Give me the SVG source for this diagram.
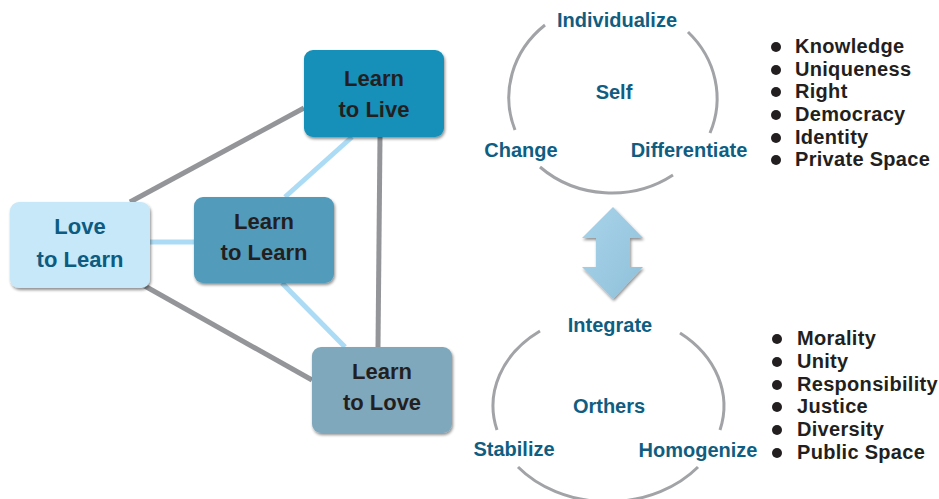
<svg xmlns="http://www.w3.org/2000/svg" width="939" height="499" viewBox="0 0 939 499">
<style>
.box text{font-family:"Liberation Sans",Arial,sans-serif;font-weight:bold;font-size:22px;text-anchor:middle;fill:#231f20}
.lbl{font-family:"Liberation Sans",Arial,sans-serif;font-weight:bold;font-size:20px;fill:#0f5e82}
.bul{font-family:"Liberation Sans",Arial,sans-serif;font-weight:bold;font-size:20px;fill:#231f20;letter-spacing:0.3px}
.gray{stroke:#949599;stroke-width:5;fill:none}
.lblue{stroke:#acdcf5;stroke-width:5;fill:none}
.arc{stroke:#a2a3a6;stroke-width:3;fill:none}
.dot{fill:#231f20}
</style>
<defs>
<filter id="sh" x="-10%" y="-10%" width="125%" height="130%">
<feGaussianBlur in="SourceAlpha" stdDeviation="1.5"/>
<feOffset dx="1" dy="2" result="o"/>
<feComponentTransfer><feFuncA type="linear" slope="0.45"/></feComponentTransfer>
<feMerge><feMergeNode/><feMergeNode in="SourceGraphic"/></feMerge>
</filter>
<linearGradient id="ag" x1="0" y1="0" x2="1" y2="1">
<stop offset="0" stop-color="#a9d4ea"/>
<stop offset="1" stop-color="#8fc0da"/>
</linearGradient>
</defs>
<g id="connectors">
<line class="gray" x1="130" y1="202" x2="304" y2="108"/>
<line class="gray" x1="143" y1="285" x2="312" y2="380"/>
<line class="gray" x1="380" y1="137" x2="378" y2="347"/>
<line class="lblue" x1="150" y1="242" x2="194" y2="242"/>
<line class="lblue" x1="352" y1="137" x2="285" y2="197"/>
<line class="lblue" x1="282" y1="283" x2="345" y2="347"/>
</g>
<g id="learn-to-live" class="box">
<rect x="304" y="50" width="140" height="87" rx="9" fill="#1390b8" filter="url(#sh)"/>
<text x="374" y="86">Learn</text>
<text x="374" y="117">to Live</text>
</g>
<g id="love-to-learn" class="box">
<rect x="10" y="202" width="140" height="86" rx="9" fill="#c6e8f8" filter="url(#sh)"/>
<text x="80" y="234" style="fill:#0d5b80">Love</text>
<text x="80" y="267" style="fill:#0d5b80">to Learn</text>
</g>
<g id="learn-to-learn" class="box">
<rect x="194" y="197" width="140" height="86" rx="9" fill="#529bbb" filter="url(#sh)"/>
<text x="264" y="229">Learn</text>
<text x="264" y="260">to Learn</text>
</g>
<g id="learn-to-love" class="box">
<rect x="312" y="347" width="140" height="86" rx="9" fill="#80a8bc" filter="url(#sh)"/>
<text x="382" y="379">Learn</text>
<text x="382" y="410">to Love</text>
</g>
<g id="self-cycle">
<path class="arc" d="M545,25 A105,96 0 0 0 515,130"/>
<path class="arc" d="M540,167 A105,96 0 0 0 673,175"/>
<path class="arc" d="M710,133 A105,96 0 0 0 688,32"/>
<text class="lbl" x="617" y="27" text-anchor="middle">Individualize</text>
<text class="lbl" x="614" y="99" text-anchor="middle">Self</text>
<text class="lbl" x="521" y="157" text-anchor="middle">Change</text>
<text class="lbl" x="689" y="157" text-anchor="middle">Differentiate</text>
</g>
<g id="double-arrow">
<polygon points="613,207 643,238 630,238 630,267 643,267 613,299 582,267 596,267 596,238 582,238" fill="url(#ag)" filter="url(#sh)"/>
</g>
<g id="others-cycle">
<path class="arc" d="M540,331 A115.5,93 0 0 0 497,430"/>
<path class="arc" d="M518,467 A115.5,93 0 0 0 698,467"/>
<path class="arc" d="M720,430 A115.5,93 0 0 0 680,333"/>
<text class="lbl" x="610" y="332" text-anchor="middle">Integrate</text>
<text class="lbl" x="609" y="413" text-anchor="middle">Orthers</text>
<text class="lbl" x="514" y="456" text-anchor="middle">Stabilize</text>
<text class="lbl" x="698" y="457" text-anchor="middle">Homogenize</text>
</g>
<g id="self-list">
<circle class="dot" cx="776" cy="47" r="5"/><text class="bul" x="795" y="53">Knowledge</text>
<circle class="dot" cx="776" cy="70" r="5"/><text class="bul" x="795" y="76">Uniqueness</text>
<circle class="dot" cx="776" cy="92" r="5"/><text class="bul" x="795" y="98">Right</text>
<circle class="dot" cx="776" cy="115" r="5"/><text class="bul" x="795" y="121">Democracy</text>
<circle class="dot" cx="776" cy="138" r="5"/><text class="bul" x="795" y="144">Identity</text>
<circle class="dot" cx="776" cy="160" r="5"/><text class="bul" x="795" y="166">Private Space</text>
</g>
<g id="others-list">
<circle class="dot" cx="777" cy="339" r="5"/><text class="bul" x="797" y="345">Morality</text>
<circle class="dot" cx="777" cy="362" r="5"/><text class="bul" x="797" y="368">Unity</text>
<circle class="dot" cx="777" cy="385" r="5"/><text class="bul" x="797" y="391">Responsibility</text>
<circle class="dot" cx="777" cy="407" r="5"/><text class="bul" x="797" y="413">Justice</text>
<circle class="dot" cx="777" cy="430" r="5"/><text class="bul" x="797" y="436">Diversity</text>
<circle class="dot" cx="777" cy="453" r="5"/><text class="bul" x="797" y="459">Public Space</text>
</g>
</svg>
